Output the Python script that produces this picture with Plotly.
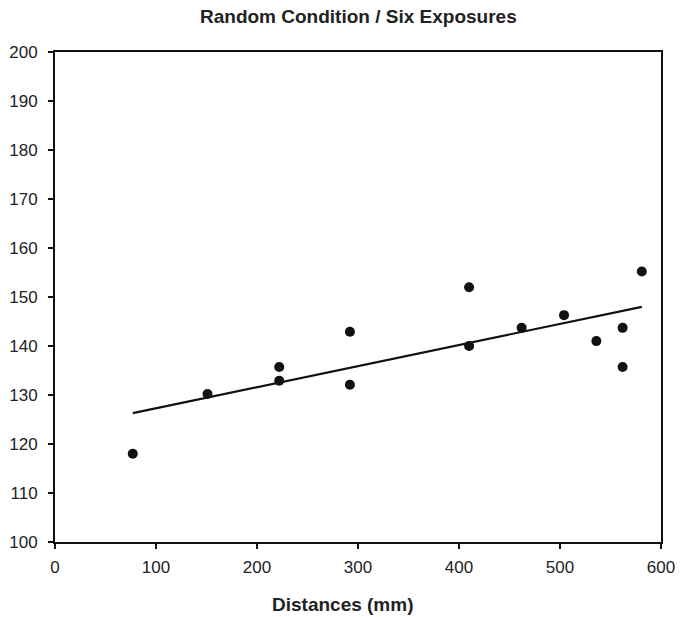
import plotly.graph_objects as go

distance_mm = [77, 151, 222, 222, 292, 292, 410, 410, 462, 504, 536, 562, 562, 581]
response = [118.0, 130.2, 135.7, 132.9, 142.9, 132.1, 152.0, 140.0, 143.7, 146.3, 141.0, 143.7, 135.7, 155.2]
fit_x = [77, 581]
fit_y = [126.3, 148.0]
x_ticks = [0, 100, 200, 300, 400, 500, 600]
y_ticks = [100, 110, 120, 130, 140, 150, 160, 170, 180, 190, 200]

font_family = "Liberation Sans, Arial, sans-serif"

fig = go.Figure()
fig.add_trace(go.Scatter(x=fit_x, y=fit_y, mode="lines",
                         line=dict(color="#111111", width=2.2), showlegend=False))
fig.add_trace(go.Scatter(x=distance_mm, y=response, mode="markers",
                         marker=dict(color="#111111", size=10), showlegend=False))

fig.update_layout(
    width=680, height=617,
    margin=dict(l=55, r=19, t=52, b=75, autoexpand=False),
    paper_bgcolor="white", plot_bgcolor="white",
    font=dict(family=font_family, color="#222222", size=17),
    showlegend=False,
    annotations=[
        dict(text="<b>Random Condition / Six Exposures</b>", xref="paper", yref="paper",
             x=0.5, y=1, yshift=36, showarrow=False, xanchor="center", yanchor="middle",
             font=dict(size=19, family=font_family, color="#222222")),
        dict(text="<b>Distances (mm)</b>", xref="paper", yref="paper",
             x=0.475, y=0, yshift=-62, showarrow=False, xanchor="center", yanchor="middle",
             font=dict(size=19, family=font_family, color="#222222")),
    ],
)
fig.update_xaxes(range=[0, 600], tickvals=x_ticks, ticktext=[str(v) for v in x_ticks],
                 showgrid=False, zeroline=False, showline=True, linecolor="#111111",
                 linewidth=2, mirror=True, ticks="outside", ticklen=5, tickwidth=2,
                 tickcolor="#111111", tickfont=dict(size=17), ticklabelstandoff=4,
                 automargin=False)
fig.update_yaxes(range=[100, 200], tickvals=y_ticks, ticktext=[str(v) for v in y_ticks],
                 showgrid=False, zeroline=False, showline=True, linecolor="#111111",
                 linewidth=2, mirror=True, ticks="outside", ticklen=5, tickwidth=2,
                 tickcolor="#111111", tickfont=dict(size=17), ticklabelstandoff=7,
                 automargin=False)

fig.write_html("out.html")
